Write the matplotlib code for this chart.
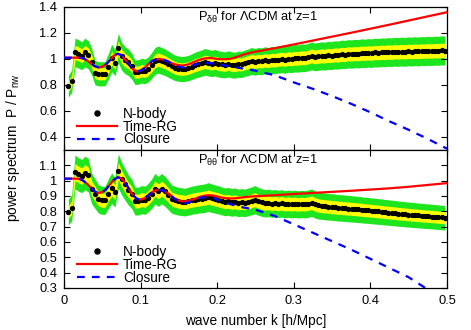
import numpy as np
import matplotlib
matplotlib.use('Agg')
import matplotlib.pyplot as plt

plt.rcParams['font.family'] = ['Liberation Sans', 'DejaVu Sans']
plt.rcParams['mathtext.fontset'] = 'custom'
plt.rcParams['mathtext.rm'] = 'Liberation Sans'
plt.rcParams['mathtext.it'] = 'Liberation Sans'
plt.rcParams['font.size'] = 9.5

# N-body grid (fundamental mode spacing)
k_nbody = 0.00435 * (np.arange(1, 115) + 0.3)

# P_delta-theta / P_nw, N-body
nbody_dt = [
    0.79, 0.83, 1.05, 1.04, 1.025, 1.05, 1.032, 0.98, 0.896, 0.886,
    0.886, 0.886, 0.942, 1.007, 0.973, 1.084, 1.02, 0.99, 0.975, 0.946,
    0.898, 0.90, 0.91, 0.905, 0.92, 0.95, 0.985, 0.995, 0.985, 0.975,
    0.96, 0.945, 0.932, 0.926, 0.922, 0.925, 0.93, 0.94, 0.952, 0.96,
    0.968, 0.978, 0.972, 0.965, 0.972, 0.962, 0.958, 0.955, 0.962, 0.955,
    0.952, 0.96, 0.958, 0.968, 0.975, 0.985, 0.978, 0.985, 0.982, 0.99,
    0.985, 0.992, 0.99, 0.996, 1.0, 0.995, 1.003, 1.0, 1.006, 1.004,
    1.01, 1.008, 1.015, 1.024, 1.016, 1.02, 1.024, 1.022, 1.028, 1.026,
    1.032, 1.03, 1.036, 1.034, 1.04, 1.038, 1.042, 1.04, 1.045, 1.043,
    1.047, 1.045, 1.05, 1.048, 1.052, 1.05, 1.054, 1.052, 1.056, 1.054,
    1.057, 1.055, 1.059, 1.057, 1.06, 1.058, 1.061, 1.06, 1.063, 1.061,
    1.064, 1.063, 1.066, 1.065,
]

# P_theta-theta / P_nw, N-body
nbody_tt = [
    0.795, 0.823, 1.056, 1.041, 1.03, 1.05, 1.035, 0.948, 0.915, 0.882,
    0.872, 0.872, 0.915, 0.95, 0.925, 1.063, 1.013, 0.976, 0.94, 0.915,
    0.867, 0.867, 0.876, 0.872, 0.89, 0.915, 0.948, 0.93, 0.948, 0.93,
    0.906, 0.88, 0.872, 0.866, 0.863, 0.86, 0.866, 0.872, 0.876, 0.88,
    0.883, 0.886, 0.893, 0.886, 0.88, 0.875, 0.868, 0.862, 0.865, 0.858,
    0.862, 0.855, 0.858, 0.855, 0.862, 0.868, 0.876, 0.865, 0.858, 0.852,
    0.855, 0.85, 0.853, 0.848, 0.852, 0.846, 0.85, 0.846, 0.849, 0.845,
    0.848, 0.846, 0.85, 0.856, 0.845, 0.838, 0.835, 0.832, 0.83, 0.828,
    0.826, 0.823, 0.822, 0.82, 0.818, 0.816, 0.814, 0.812, 0.81, 0.807,
    0.806, 0.803, 0.801, 0.799, 0.797, 0.794, 0.792, 0.79, 0.788, 0.785,
    0.783, 0.781, 0.779, 0.777, 0.775, 0.773, 0.771, 0.769, 0.768, 0.766,
    0.764, 0.762, 0.76, 0.758,
]

# theory k grid
k_theory = [
    0.0, 0.005, 0.01, 0.015, 0.02, 0.025, 0.03, 0.035, 0.04, 0.045,
    0.05, 0.055, 0.06, 0.065, 0.07, 0.075, 0.08, 0.085, 0.09, 0.095,
    0.1, 0.105, 0.11, 0.115, 0.12, 0.125, 0.13, 0.135, 0.14, 0.145,
    0.15, 0.155, 0.16, 0.165, 0.17, 0.175, 0.18, 0.185, 0.19, 0.195,
    0.2, 0.205, 0.21, 0.215, 0.22, 0.225, 0.23, 0.235, 0.24, 0.245,
    0.25, 0.275, 0.3, 0.325, 0.35, 0.375, 0.4, 0.425, 0.45, 0.475, 0.5,
]

trg_dt = [
    1.01, 1.01, 1.01, 1.01, 1.01, 1.005, 0.99, 0.965, 0.945, 0.935,
    0.94, 0.96, 0.99, 1.025, 1.04, 1.03, 0.995, 0.955, 0.92, 0.905,
    0.91, 0.93, 0.96, 0.985, 0.998, 1.0, 0.995, 0.985, 0.97, 0.958,
    0.952, 0.95, 0.955, 0.965, 0.978, 0.99, 1.0, 1.005, 1.007, 1.005,
    1.0, 0.998, 0.998, 1.0, 1.005, 1.015, 1.025, 1.035, 1.043, 1.05,
    1.056, 1.083, 1.112, 1.142, 1.172, 1.202, 1.233, 1.264, 1.296, 1.328, 1.36,
]

closure_dt = [
    1.01, 1.01, 1.01, 1.01, 1.01, 1.005, 0.99, 0.965, 0.945, 0.935,
    0.94, 0.96, 0.99, 1.025, 1.04, 1.03, 0.995, 0.955, 0.92, 0.905,
    0.91, 0.93, 0.96, 0.985, 0.998, 1.0, 0.995, 0.983, 0.965, 0.95,
    0.94, 0.935, 0.935, 0.945, 0.955, 0.965, 0.968, 0.97, 0.968, 0.965,
    0.96, 0.955, 0.95, 0.945, 0.94, 0.935, 0.93, 0.925, 0.92, 0.915,
    0.91, 0.875, 0.82, 0.77, 0.715, 0.655, 0.59, 0.52, 0.455, 0.385, 0.31,
]

trg_tt = [
    1.013, 1.013, 1.013, 1.013, 1.012, 1.0, 0.98, 0.955, 0.93, 0.92,
    0.925, 0.945, 0.975, 1.005, 1.022, 1.015, 0.985, 0.945, 0.905, 0.882,
    0.876, 0.885, 0.905, 0.925, 0.938, 0.94, 0.935, 0.92, 0.9, 0.882,
    0.87, 0.865, 0.866, 0.872, 0.88, 0.89, 0.898, 0.903, 0.905, 0.903,
    0.897, 0.89, 0.886, 0.884, 0.884, 0.886, 0.889, 0.892, 0.895, 0.897,
    0.898, 0.905, 0.913, 0.92, 0.927, 0.934, 0.942, 0.95, 0.96, 0.972, 0.984,
]

closure_tt = [
    1.013, 1.013, 1.013, 1.013, 1.012, 1.0, 0.98, 0.955, 0.93, 0.92,
    0.925, 0.945, 0.975, 1.005, 1.022, 1.015, 0.985, 0.945, 0.905, 0.882,
    0.876, 0.885, 0.905, 0.925, 0.938, 0.94, 0.935, 0.92, 0.9, 0.88,
    0.865, 0.855, 0.855, 0.862, 0.872, 0.882, 0.89, 0.893, 0.893, 0.888,
    0.877, 0.866, 0.857, 0.85, 0.843, 0.836, 0.83, 0.824, 0.82, 0.815,
    0.81, 0.77, 0.715, 0.66, 0.605, 0.55, 0.49, 0.43, 0.37, 0.29, 0.21,
]

GREEN = '#1ee61e'
YELLOW = '#ffff00'

fig = plt.figure(figsize=(4.71, 3.30), dpi=100)
ax1 = fig.add_axes([0.1359, 0.5455, 0.8131, 0.4333])
ax2 = fig.add_axes([0.1359, 0.1273, 0.8131, 0.4182])

panels = [
    (ax1, nbody_dt, trg_dt, closure_dt, r'P$_{\delta\theta}$ for $\Lambda$CDM at z=1',
     (0.3, 1.4), [0.4, 0.6, 0.8, 1.0, 1.2, 1.4], ['0.4', '0.6', '0.8', '1', '1.2', '1.4']),
    (ax2, nbody_tt, trg_tt, closure_tt, r'P$_{\theta\theta}$ for $\Lambda$CDM at z=1',
     (0.3, 1.2), [0.3, 0.4, 0.5, 0.6, 0.7, 0.8, 0.9, 1.0, 1.1],
     ['0.3', '0.4', '0.5', '0.6', '0.7', '0.8', '0.9', '1', '1.1']),
]

for ax, nb, trg, clo, title, ylim, yt, ytl in panels:
    nb = np.array(nb)
    ax.fill_between(k_nbody, nb * 0.895, nb * 1.105, color=GREEN, lw=0, zorder=1)
    ax.fill_between(k_nbody, nb * 0.948, nb * 1.052, color=YELLOW, lw=0, zorder=2)
    ax.plot(k_nbody, nb, 'o', color='black', ms=2.8, label='N-body', zorder=3)
    ax.plot(k_theory, trg, '-', color='#ff0000', lw=1.6, label='Time-RG', zorder=4)
    ax.plot(k_theory, clo, '--', color='#0000ff', lw=1.6, dashes=(3.5, 3.2),
            label='Closure', zorder=5)

    ax.set_xlim(0, 0.5)
    ax.set_ylim(*ylim)
    ax.set_xticks([0, 0.1, 0.2, 0.3, 0.4, 0.5])
    ax.set_yticks(yt)
    ax.set_yticklabels(ytl)
    ax.tick_params(direction='in', top=True, right=True, length=4, width=0.8,
                   labelsize=9.3, pad=5)
    for sp in ax.spines.values():
        sp.set_linewidth(0.9)

    ax.text(0.505, 0.925, title, transform=ax.transAxes, ha='center', va='center',
            fontsize=9.3)
    leg = ax.legend(loc='lower left', bbox_to_anchor=(0.035, 0.025), frameon=False,
                    handlelength=2.9, handletextpad=0.45, labelspacing=-0.1,
                    borderpad=0, borderaxespad=0, fontsize=9.8, markerscale=1.3)

ax1.tick_params(labelbottom=False)
ax2.set_xticklabels(['0', '0.1', '0.2', '0.3', '0.4', '0.5'])

fig.text(0.5425, 0.027, 'wave number k [h/Mpc]', ha='center', va='center', fontsize=9.8)
fig.text(0.027, 0.553, r'power spectrum  P / P$_{\mathrm{nw}}$', ha='center', va='center',
         rotation=90, fontsize=9.8)

fig.savefig('out.png', dpi=100)
